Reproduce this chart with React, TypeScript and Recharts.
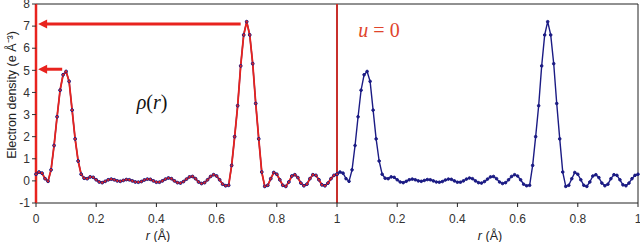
import {
  ComposedChart,
  Line,
  XAxis,
  YAxis,
  ReferenceLine,
} from 'recharts'

// electron density sampled every 0.01 Å over one period (0 .. 1)
const density = [
  0.3, 0.4, 0.35, 0.1, -0.02, 0.5, 1.6, 2.9, 4.1, 4.8,
  4.95, 4.5, 3.2, 1.9, 0.9, 0.3, 0.12, 0.1, 0.18, 0.16,
  0.05, -0.05, -0.08, -0.02, 0.05, 0.08, 0.05, 0.0, -0.02, 0.02,
  0.06, 0.05, 0.0, -0.05, -0.06, -0.03, 0.04, 0.08, 0.07, 0.0,
  -0.06, -0.06, 0.0, 0.08, 0.13, 0.1, 0.0, -0.08, -0.1, -0.03,
  0.08, 0.18, 0.2, 0.1, -0.05, -0.12, -0.08, 0.05, 0.2, 0.28,
  0.22, 0.05, -0.15, -0.22, -0.2, 0.7, 2.0, 3.4, 5.2, 6.6,
  7.2, 6.6, 5.3, 3.5, 1.9, 0.4, -0.25, -0.2, 0.1, 0.38,
  0.3, 0.05, -0.2, -0.25, -0.05, 0.22, 0.28, 0.15, -0.1, -0.22,
  -0.15, 0.1, 0.28, 0.25, 0.05, -0.18, -0.22, -0.1, 0.1, 0.25,
  0.3,
]

const xTicks = [0, 0.2, 0.4, 0.6, 0.8, 1, 1.2, 1.4, 1.6, 1.8, 2]
const xTickLabels = ['0', '0.2', '0.4', '0.6', '0.8', '1', '0.2', '0.4', '0.6', '0.8', '1']
const yTicks = [-1, 0, 1, 2, 3, 4, 5, 6, 7, 8]

// arrows pointing at the two peak heights
const arrows = [
  { from: 0.68, to: 0.007, y: 7.1 },
  { from: 0.087, to: 0.007, y: 5.05 },
]

const leftRows = density.map((v, i) => ({ r: i / 100, left: v, fit: v }))
const rightRows = density.map((v, i) => ({ r: 1 + i / 100, right: v }))
const rows = [...leftRows, ...rightRows]

const RED = '#e8231e'
const NAVY = '#1b1b84'

function Arrow(props: any) {
  const { x1, y1, x2, y2 } = props
  const head = 9
  return (
    <g>
      <line x1={x1} y1={y1} x2={x2 + head - 1} y2={y2} stroke={RED} strokeWidth={3} />
      <polygon points={`${x2},${y2} ${x2 + head},${y2 - 4.5} ${x2 + head},${y2 + 4.5}`} fill={RED} />
    </g>
  )
}

export default function App() {
  return (
    <div style={{ position: 'absolute', left: 0, top: 0, width: 640, height: 242, background: '#fff' }}>
      <ComposedChart
        width={640}
        height={242}
        data={rows}
        margin={{ top: 4, right: 2, bottom: 0, left: 0 }}
      >
        <XAxis
          dataKey="r"
          type="number"
          domain={[0, 2]}
          ticks={xTicks}
          height={39}
          interval={0}
          tickFormatter={(v: number) => xTickLabels[xTicks.indexOf(v)] ?? ''}
          tick={{ fontSize: 12, fill: '#333', fontFamily: 'Liberation Sans, Arial, sans-serif', dy: 5 }}
          axisLine={{ stroke: '#222' }}
          tickLine={{ stroke: '#222' }}
          tickSize={4}
        />
        <YAxis
          type="number"
          domain={[-1, 8]}
          ticks={yTicks}
          width={36}
          interval={0}
          tick={{ fontSize: 12, fill: '#333', fontFamily: 'Liberation Sans, Arial, sans-serif' }}
          axisLine={{ stroke: RED, strokeWidth: 2.5 }}
          tickLine={{ stroke: '#333' }}
          tickSize={4}
        />
        <ReferenceLine y={8} stroke="#222" strokeWidth={1} />
        <ReferenceLine x={2} stroke="#222" strokeWidth={1} />
        <ReferenceLine x={1} stroke="#c8302c" strokeWidth={2} />
        <Line
          dataKey="right"
          stroke={NAVY}
          strokeWidth={1.4}
          dot={{ r: 1.3, fill: NAVY, stroke: NAVY, strokeWidth: 1 }}
          isAnimationActive={false}
        />
        <Line
          dataKey="left"
          stroke={NAVY}
          strokeWidth={1.4}
          dot={{ r: 1.4, fill: NAVY, stroke: NAVY, strokeWidth: 1 }}
          isAnimationActive={false}
        />
        <Line
          dataKey="fit"
          stroke={RED}
          strokeWidth={1.8}
          dot={{ r: 1.1, fill: RED, stroke: 'none' }}
          isAnimationActive={false}
        />
        {arrows.map((a, i) => (
          <ReferenceLine
            key={i}
            segment={[
              { x: a.from, y: a.y },
              { x: a.to, y: a.y },
            ]}
            ifOverflow="visible"
            shape={Arrow}
          />
        ))}
      </ComposedChart>
      <svg
        width={640}
        height={242}
        style={{ position: 'absolute', left: 0, top: 0, pointerEvents: 'none' }}
      >
        <text
          transform="translate(13,95) rotate(-90)"
          textAnchor="middle"
          dominantBaseline="middle"
          fontSize={12.5}
          fill="#222"
          fontFamily="Liberation Sans, Arial, sans-serif"
        >
          Electron density (e Å⁻³)
        </text>
        <text x={158} y={240} textAnchor="middle" fontSize={12.5} fill="#222" fontFamily="Liberation Sans, Arial, sans-serif">
          <tspan fontStyle="italic">r</tspan> (Å)
        </text>
        <text x={490} y={240} textAnchor="middle" fontSize={12.5} fill="#222" fontFamily="Liberation Sans, Arial, sans-serif">
          <tspan fontStyle="italic">r</tspan> (Å)
        </text>
        <text x={152} y={109} textAnchor="middle" fontSize={20} fill="#111" fontFamily="Liberation Serif, Times New Roman, serif">
          <tspan fontStyle="italic">ρ</tspan>(<tspan fontStyle="italic">r</tspan>)
        </text>
        <text x={379} y={37} textAnchor="middle" fontSize={20} fill="#e0442c" fontFamily="Liberation Serif, Times New Roman, serif">
          <tspan fontStyle="italic">u</tspan> = 0
        </text>
      </svg>
    </div>
  )
}
